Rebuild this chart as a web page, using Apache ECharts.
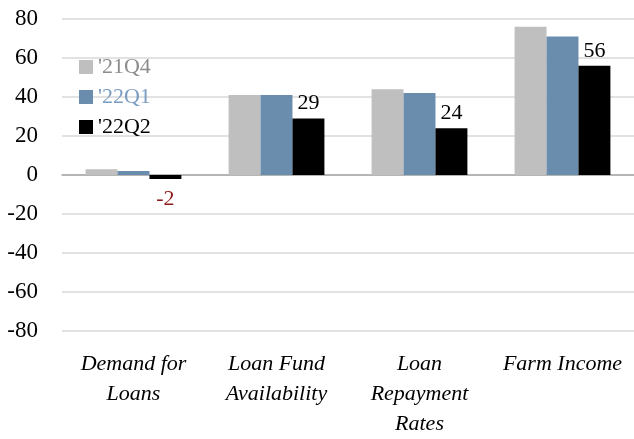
<!DOCTYPE html>
<html>
<head>
<meta charset="utf-8">
<script src="https://cdn.jsdelivr.net/npm/echarts@6/dist/echarts.min.js"></script>
<style>
  html, body { margin: 0; padding: 0; background: #fff; }
  #chart { width: 634px; height: 439px; }
</style>
</head>
<body>
<div id="chart"></div>
<script>
// Survey categories and quarterly index values
const categories = ['Demand for\nLoans', 'Loan Fund\nAvailability', 'Loan\nRepayment\nRates', 'Farm Income'];
const seriesNames = ["'21Q4", "'22Q1", "'22Q2"];
const q21Q4 = [3, 41, 44, 76];
const q22Q1 = [2, 41, 42, 71];
const q22Q2 = [-2, 29, 24, 56];
const yTicks = [-80, -60, -40, -20, 0, 20, 40, 60, 80];

const FONT = 'Liberation Serif';
const colors = ['#BFBFBF', '#6A8CAD', '#000000'];
const legendTextColors = ['#8C8C8C', '#7A9CC0', '#000000'];

const chart = echarts.init(document.getElementById('chart'), null, { renderer: 'canvas' });

// Latest quarter carries value labels; negatives sit below the bar in dark red
const latestData = q22Q2.map(v => ({
  value: v,
  label: v < 0
    ? { position: 'bottom', color: '#8B1A1A', distance: 9 }
    : { position: 'top', color: '#000', distance: 4 }
}));

chart.setOption({
  animation: false,
  textStyle: { fontFamily: FONT },
  grid: { left: 62, right: 0, top: 19, bottom: 106, containLabel: false },
  legend: {
    orient: 'vertical',
    left: 74,
    top: 51,
    icon: 'rect',
    itemWidth: 14,
    itemHeight: 14,
    itemGap: 8,
    textStyle: { fontFamily: FONT, fontSize: 22, lineHeight: 22 },
    data: seriesNames.map((n, i) => ({ name: n, textStyle: { color: legendTextColors[i] } }))
  },
  xAxis: {
    type: 'category',
    data: categories,
    axisTick: { show: false },
    axisLine: { onZero: true, lineStyle: { color: '#A6A6A6', width: 1.5 } },
    axisLabel: {
      interval: 0,
      margin: 18,
      fontFamily: FONT,
      fontStyle: 'italic',
      fontSize: 22,
      lineHeight: 30,
      color: '#000'
    }
  },
  yAxis: {
    type: 'value',
    min: yTicks[0],
    max: yTicks[yTicks.length - 1],
    interval: 20,
    axisLine: { show: false },
    axisTick: { show: false },
    splitLine: { lineStyle: { color: '#D9D9D9', width: 1.5 } },
    axisLabel: { margin: 24, fontFamily: FONT, fontSize: 23, color: '#000' }
  },
  series: [
    {
      name: seriesNames[0], type: 'bar', data: q21Q4,
      itemStyle: { color: colors[0] }, barGap: '0%', barCategoryGap: '33%'
    },
    {
      name: seriesNames[1], type: 'bar', data: q22Q1,
      itemStyle: { color: colors[1] }, barGap: '0%', barCategoryGap: '33%'
    },
    {
      name: seriesNames[2], type: 'bar', data: latestData,
      itemStyle: { color: colors[2] }, barGap: '0%', barCategoryGap: '33%',
      label: { show: true, fontFamily: FONT, fontSize: 22 }
    }
  ]
});
</script>
</body>
</html>
